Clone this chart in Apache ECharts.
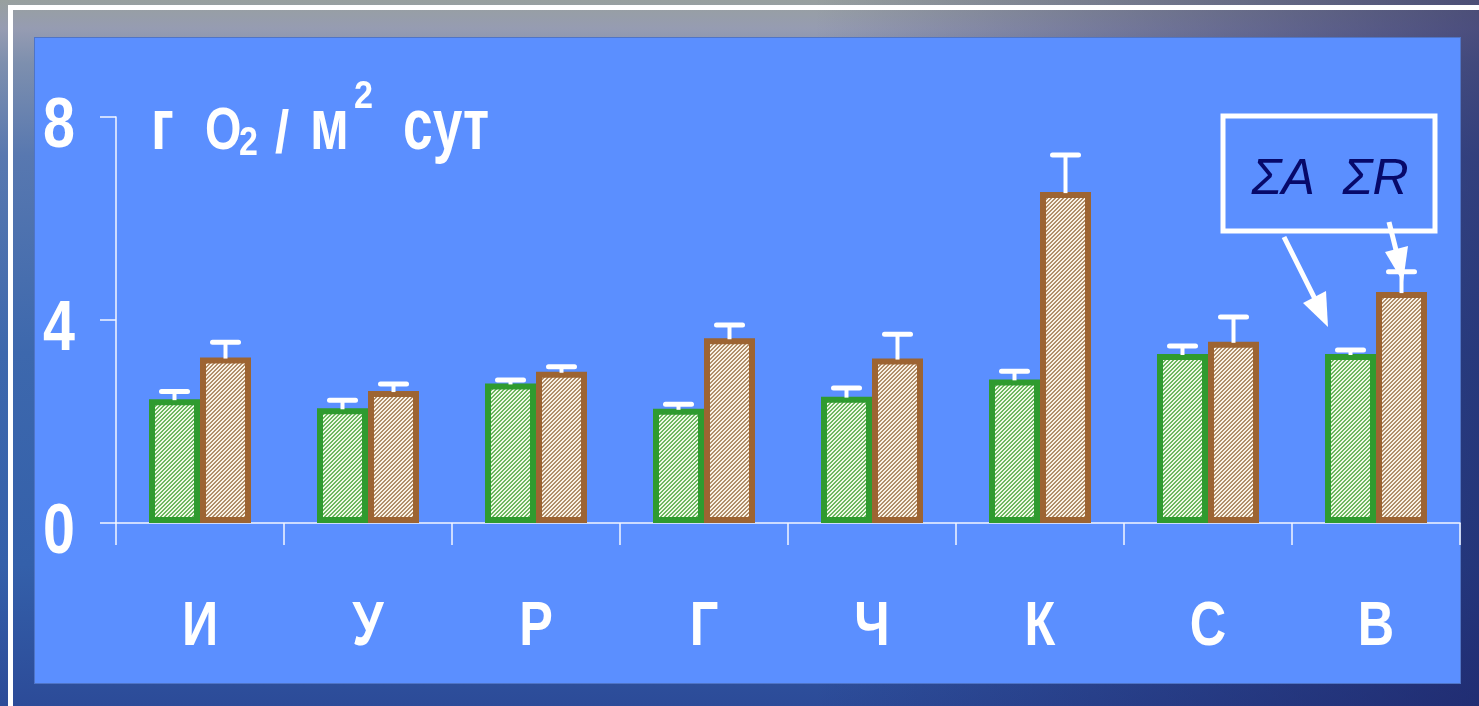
<!DOCTYPE html>
<html>
<head>
<meta charset="utf-8">
<script src="https://cdn.jsdelivr.net/npm/echarts@6/dist/echarts.min.js"></script>
<style>
  html, body { margin: 0; padding: 0; width: 1479px; height: 706px; overflow: hidden; }
  body {
    position: relative;
    background:
      linear-gradient(to right, rgba(40,60,90,0) 0%, rgba(40,60,90,0) 55%, rgba(25,25,90,0.6) 100%),
      linear-gradient(to bottom, #98a09e 0%, #969cb2 4%, #7d8fae 9%, #5878b0 22%, #3d68ad 50%, #3460aa 80%, #2c4b98 100%);
  }
  #frame { position: absolute; left: 8px; top: 5px; width: 1520px; height: 800px; border: 5px solid #fff; box-sizing: border-box; }
  #panel { position: absolute; left: 35px; top: 38px; width: 1425px; height: 645px; background: #5b8fff; box-shadow: 0 0 0 1px #4f74c6; }
  #chart { position: absolute; left: 0; top: 0; width: 1479px; height: 706px; }
</style>
</head>
<body>
<div id="frame"></div>
<div id="panel"></div>
<div id="chart"></div>
<script>
  // values (g O2 / m2 per day)
  const categories = ['И', 'У', 'Р', 'Г', 'Ч', 'К', 'С', 'В'];
  const sumA = [2.44, 2.26, 2.75, 2.25, 2.49, 2.83, 3.33, 3.33];   // green bars
  const sumR = [3.26, 2.60, 2.98, 3.64, 3.24, 6.52, 3.57, 4.55];   // brown bars
  const sumATop = [2.59, 2.42, 2.82, 2.34, 2.66, 2.99, 3.49, 3.41]; // error bar ends
  const sumRTop = [3.56, 2.74, 3.08, 3.90, 3.72, 7.25, 4.06, 4.95];
  const yTicks = [0, 4, 8];

  const font = "'Liberation Sans', Arial, sans-serif";

  function hatch(dark, light) {
    const c = document.createElement('canvas');
    c.width = 4; c.height = 4;
    const ctx = c.getContext('2d');
    for (let x = 0; x < 4; x++) {
      for (let y = 0; y < 4; y++) {
        ctx.fillStyle = ((x + y) % 4 < 2) ? dark : light;
        ctx.fillRect(x, y, 1, 1);
      }
    }
    return { image: c, repeat: 'repeat' };
  }

  const barWidth = 51;

  function errorSeries(vals, tops, off) {
    return {
      type: 'custom',
      z: 5,
      data: vals.map(function (v, i) { return [i, v, tops[i]]; }),
      renderItem: function (params, api) {
        const i = api.value(0);
        const base = api.coord([i, api.value(1)]);
        const top = api.coord([i, api.value(2)]);
        const x = base[0] + off;
        return {
          type: 'group',
          children: [
            { type: 'line', shape: { x1: x, y1: base[1] + 1, x2: x, y2: top[1] },
              style: { stroke: '#ffffff', lineWidth: 4 } },
            { type: 'line', shape: { x1: x - 13, y1: top[1], x2: x + 13, y2: top[1] },
              style: { stroke: '#ffffff', lineWidth: 5, lineCap: 'round' } }
          ]
        };
      }
    };
  }

  const chart = echarts.init(document.getElementById('chart'));
  const white = '#f4f6ff';

  chart.setOption({
    backgroundColor: 'transparent',
    animation: false,
    grid: { left: 116, right: 19, top: 117, bottom: 183 },
    xAxis: {
      type: 'category',
      data: categories,
      axisLine: { lineStyle: { color: white, width: 1.5 } },
      axisTick: { show: true, length: 22, lineStyle: { color: white, width: 1.5 } },
      axisLabel: { show: false }
    },
    yAxis: {
      type: 'value',
      min: 0,
      max: 8,
      interval: 4,
      axisLine: { show: true, lineStyle: { color: white, width: 1.5 } },
      axisTick: { show: true, length: 16, lineStyle: { color: white, width: 1.5 } },
      splitLine: { show: false },
      axisLabel: { show: false }
    },
    series: [
      {
        name: 'ΣA', type: 'bar', data: sumA, barWidth: barWidth, barGap: '0%', z: 2,
        itemStyle: { color: hatch('#6db760', '#eef9e6'), borderColor: '#2f9b2f', borderWidth: 6 }
      },
      {
        name: 'ΣR', type: 'bar', data: sumR, barWidth: barWidth, z: 3,
        itemStyle: { color: hatch('#b08e6a', '#fbf3e6'), borderColor: '#9d6432', borderWidth: 6 }
      },
      errorSeries(sumA, sumATop, -barWidth / 2),
      errorSeries(sumR, sumRTop, barWidth / 2)
    ]
  });

  // condensed bold labels: text placed through the axes' own scales
  const labels = [];
  yTicks.forEach(function (v) {
    const py = chart.convertToPixel({ yAxisIndex: 0 }, v);
    labels.push({ type: 'text', z: 10, x: 75, y: py + 11, scaleX: 0.82,
      style: { text: String(v), fill: '#fff', font: 'bold 70px ' + font, align: 'right', verticalAlign: 'middle' } });
  });
  categories.forEach(function (c, i) {
    const px = chart.convertToPixel({ xAxisIndex: 0 }, i);
    labels.push({ type: 'text', z: 10, x: px, y: 628, scaleX: 0.8,
      style: { text: c, fill: '#fff', font: 'bold 63px ' + font, align: 'center', verticalAlign: 'middle' } });
  });

  function t(text, x, baseline, size, sx) {
    return { type: 'text', z: 10, x: x, y: baseline + 0.212 * size, scaleX: sx,
      style: { text: text, fill: '#fff', font: 'bold ' + size + 'px ' + font, verticalAlign: 'bottom' } };
  }

  chart.setOption({
    graphic: labels.concat([
      // unit label
      t('г', 151, 150, 73, 0.75),
      t('O', 205, 150, 60, 0.78),
      t('2', 239, 155, 40, 0.85),
      t('/', 275, 153, 60, 0.85),
      t('м', 310, 150, 73, 0.72),
      t('2', 354, 108, 38, 0.9),
      t('сут', 403, 150, 73, 0.73),
      // legend box with arrows
      { type: 'rect', z: 10, shape: { x: 1223, y: 116, width: 212, height: 115 },
        style: { fill: null, stroke: '#ffffff', lineWidth: 5 } },
      { type: 'text', z: 10, style: { x: 1330, y: 180, text: 'ΣA  ΣR', fill: '#07096a',
        font: 'italic 50px ' + font, align: 'center', verticalAlign: 'middle' } },
      { type: 'line', z: 10, shape: { x1: 1284, y1: 237, x2: 1318, y2: 305 }, style: { stroke: '#fff', lineWidth: 5 } },
      { type: 'polygon', z: 10, shape: { points: [[1303, 303], [1326, 291], [1328, 327]] }, style: { fill: '#fff' } },
      { type: 'line', z: 10, shape: { x1: 1389, y1: 222, x2: 1399, y2: 262 }, style: { stroke: '#fff', lineWidth: 5 } },
      { type: 'polygon', z: 10, shape: { points: [[1385, 252], [1408, 246], [1403, 282]] }, style: { fill: '#fff' } }
    ])
  });
</script>
</body>
</html>
